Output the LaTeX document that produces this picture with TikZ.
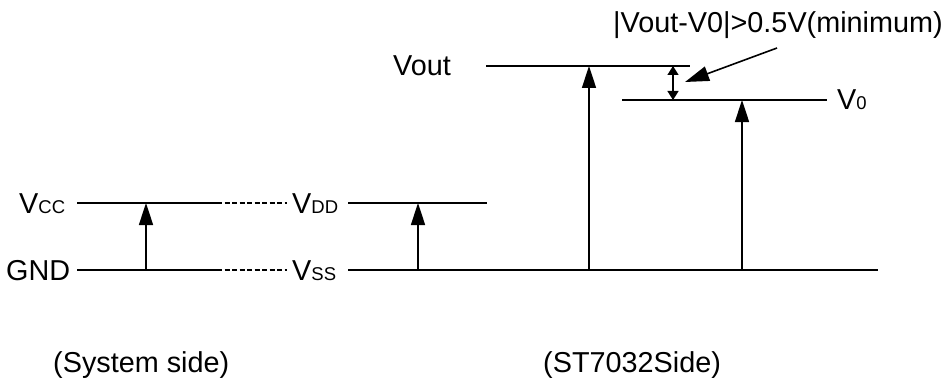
\documentclass[tikz,border=0pt]{standalone}
\usepackage{fontspec}
\setmainfont{Liberation Sans}
\usetikzlibrary{arrows.meta}
\newcommand\subtxt[1]{{\fontsize{18.5}{20}\selectfont #1}}
\begin{document}
\begin{tikzpicture}[x=1pt,y=-1pt,
  lvl/.style={line width=1.6pt},
  dsh/.style={line width=1.2pt, dash pattern=on 5pt off 2.5pt},
  uparrow/.style={line width=1.6pt,-{Triangle[length=22pt,width=14pt]}},
  gaparrow/.style={line width=1.4pt,{Triangle[length=9pt,width=11pt]}-{Triangle[length=9pt,width=11pt]}},
  ptr/.style={line width=1.6pt,-{Triangle[length=24pt,width=15pt]}},
  lbl/.style={inner sep=0pt, anchor=base west, font=\fontsize{28.8}{30}\selectfont}]
\useasboundingbox (0,0) rectangle (952,385);
% labels
\node[lbl] (vcc) at (19,213) {V\subtxt{CC}};
\node[lbl] (gnd) at (6,280) {GND};
\node[lbl] (vdd) at (292,213) {V\subtxt{DD}};
\node[lbl] (vss) at (292,280) {V\subtxt{SS}};
\node[lbl] (vout) at (393,76) {Vout};
\node[lbl] (v0) at (837,110) {V\subtxt{0}};
\node[lbl] (note) at (613,33) {|Vout-V0|>0.5V(minimum)};
\node[lbl] (sys) at (53,372) {(System side)};
\node[lbl] (st) at (543,372) {(ST7032Side)};
% level coordinates
\coordinate (c1) at (77,203);  \coordinate (c2) at (217,203);
\coordinate (c3) at (287,203); \coordinate (c4) at (348,203);
\coordinate (c5) at (487,203);
\coordinate (g1) at (77,270);  \coordinate (g2) at (217,270);
\coordinate (g3) at (287,270); \coordinate (g4) at (348,270);
\coordinate (g5) at (878,270);
\coordinate (o1) at (486,66);  \coordinate (o2) at (690,66);
\coordinate (z1) at (622,100); \coordinate (z2) at (827,100);
% arrow ends
\coordinate (a1b) at (146,270); \coordinate (a1t) at (146,203);
\coordinate (a2b) at (418,270); \coordinate (a2t) at (418,203);
\coordinate (a3b) at (589,270); \coordinate (a3t) at (589,66);
\coordinate (a4b) at (742,270); \coordinate (a4t) at (742,100);
\coordinate (d1) at (673,66); \coordinate (d2) at (673,100);
\coordinate (p1) at (777,48); \coordinate (p2) at (685,82);
% levels
\draw[lvl] (c1) -- (c2);
\draw[dsh] (c2) -- (c3);
\draw[lvl] (c4) -- (c5);
\draw[lvl] (g1) -- (g2);
\draw[dsh] (g2) -- (g3);
\draw[lvl] (g4) -- (g5);
\draw[lvl] (o1) -- (o2);
\draw[lvl] (z1) -- (z2);
% arrows
\draw[uparrow] (a1b) -- (a1t);
\draw[uparrow] (a2b) -- (a2t);
\draw[uparrow] (a3b) -- (a3t);
\draw[uparrow] (a4b) -- (a4t);
\draw[gaparrow] (d1) -- (d2);
\draw[ptr] (p1) -- (p2);
\end{tikzpicture}
\end{document}
